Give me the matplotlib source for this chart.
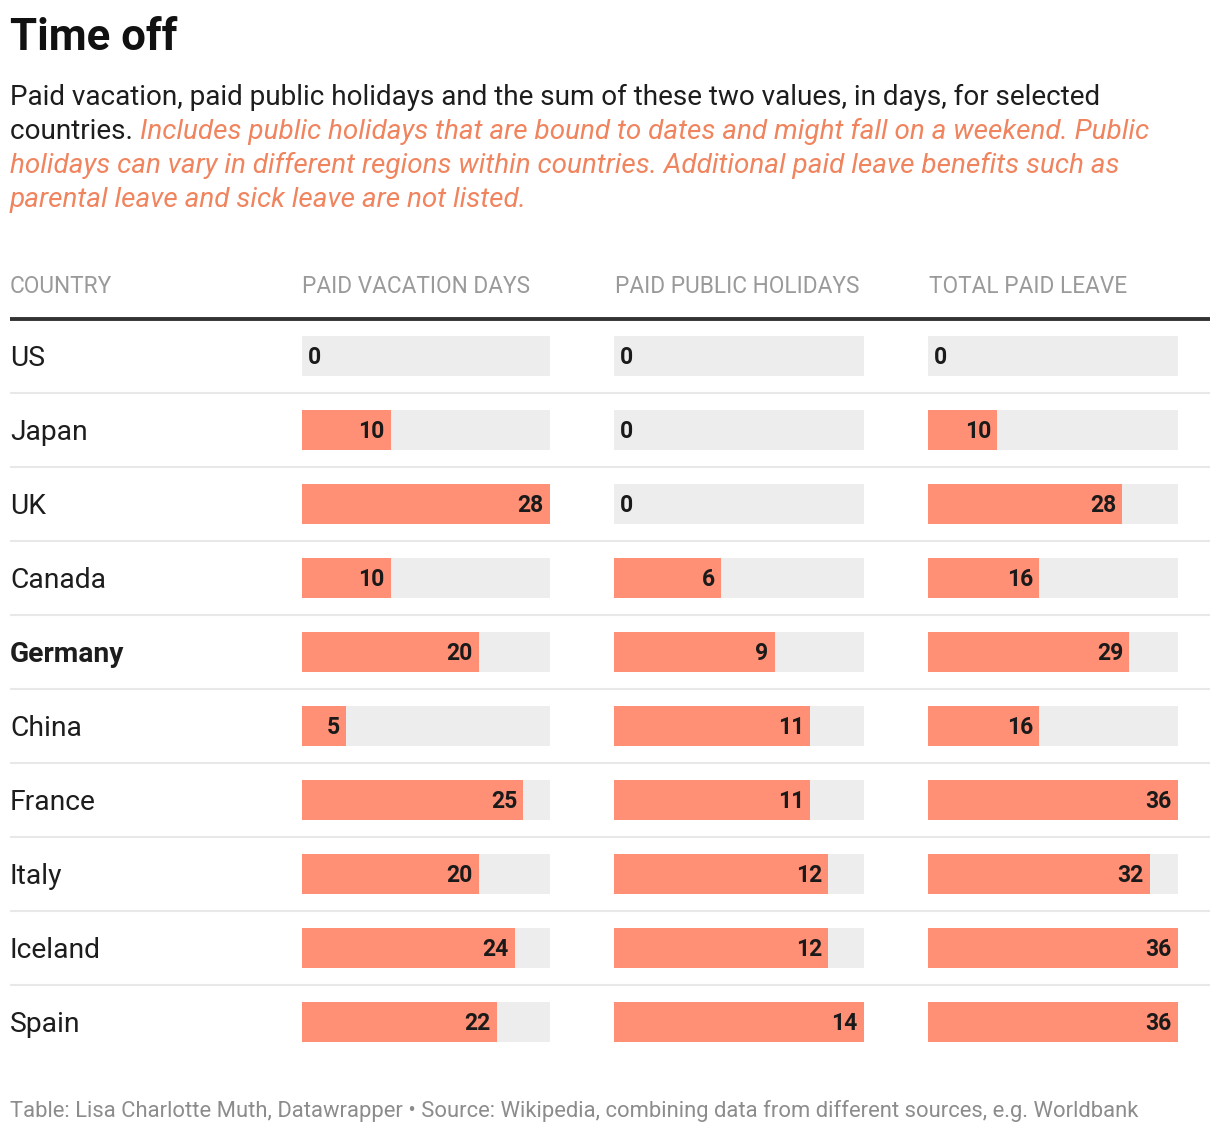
import numpy as np
import matplotlib
matplotlib.use("Agg")
import matplotlib.pyplot as plt

plt.rcParams['font.family'] = ['Roboto', 'DejaVu Sans']

# data
countries = ["US", "Japan", "UK", "Canada", "Germany", "China",
             "France", "Italy", "Iceland", "Spain"]
vacation = [0, 10, 28, 10, 20, 5, 25, 20, 24, 22]
holidays = [0, 0, 0, 6, 9, 11, 11, 12, 12, 14]
total = [0, 10, 28, 16, 29, 16, 36, 32, 36, 36]
headers = ["COUNTRY", "PAID VACATION DAYS", "PAID PUBLIC HOLIDAYS", "TOTAL PAID LEAVE"]
highlight = "Germany"

title = "Time off"
sub_lines = ["Paid vacation, paid public holidays and the sum of these two values, in days, for selected",
             "countries. "]
sub_italic = ["Includes public holidays that are bound to dates and might fall on a weekend. Public",
              "holidays can vary in different regions within countries. Additional paid leave benefits such as",
              "parental leave and sick leave are not listed."]
footer = "Table: Lisa Charlotte Muth, Datawrapper \u2022 Source: Wikipedia, combining data from different sources, e.g. Worldbank"

BAR = "#ff8f75"
BG = "#ededed"
W, H = 1220, 1134

fig = plt.figure(figsize=(W / 100, H / 100), dpi=100)
fig.patch.set_facecolor("white")


def fx(px):
    return px / W


def fy(py):
    return 1 - py / H


# title + description
fig.text(fx(10), fy(50), title, fontsize=31.5, fontweight="bold", color="#111111", va="baseline")
fig.text(fx(10), fy(105), sub_lines[0], fontsize=20.1, color="#1d1d1d", va="baseline")
t = fig.text(fx(10), fy(139), sub_lines[1], fontsize=20.1, color="#1d1d1d", va="baseline")
r = fig.canvas.get_renderer()
x_end = t.get_window_extent(r).x1 / W
fig.text(x_end, fy(139), sub_italic[0], fontsize=20.1, color="#f0845e", style="italic", va="baseline")
fig.text(fx(10), fy(173), sub_italic[1], fontsize=20.1, color="#f0845e", style="italic", va="baseline")
fig.text(fx(10), fy(207), sub_italic[2], fontsize=20.1, color="#f0845e", style="italic", va="baseline")

# table frame axes (rows in data units)
top, bottom = 319, 1059
n = len(countries)
tab = fig.add_axes([0, fy(bottom), 1, (bottom - top) / H])
tab.set_xlim(0, W)
tab.set_ylim(n - 0.5, -0.5)
tab.axis("off")

row_px = (bottom - top) / n
for i in range(n - 1):
    tab.axhline(i + 0.5, xmin=fx(10), xmax=fx(1210), color="#e8e8e8", lw=1.5,
                solid_capstyle="butt")
tab.axhline(-0.5, xmin=fx(10), xmax=fx(1210), color="#333333", lw=2.8, clip_on=False,
            solid_capstyle="butt")

for i, c in enumerate(countries):
    tab.annotate(c, (10, i), xytext=(0, -7.5), textcoords="offset points",
                 fontsize=20.3, color="#1d1d1d", va="baseline", ha="left",
                 fontweight="bold" if c == highlight else "normal")

# headers
col_x = [10, 302, 615, 929]
for x, h in zip(col_x, headers):
    fig.text(fx(x), fy(293), h, fontsize=16.3, color="#9a9a9a", va="baseline")

# bar columns
columns = [(302, 550, vacation), (614, 864, holidays), (928, 1178, total)]
bar_h = 40 / row_px
for x0, x1, vals in columns:
    ax = fig.add_axes([fx(x0), fy(bottom), (x1 - x0) / W, (bottom - top) / H])
    vmax = max(vals)
    ax.set_xlim(0, vmax)
    ax.set_ylim(n - 0.5, -0.5)
    ax.axis("off")
    y = np.arange(n)
    ax.barh(y, [vmax] * n, height=bar_h, color=BG, linewidth=0)
    ax.barh(y, vals, height=bar_h, color=BAR, linewidth=0)
    for i, v in enumerate(vals):
        if v == 0:
            ax.annotate(str(v), (0, i), xytext=(4.5, -5.8), textcoords="offset points",
                        ha="left", va="baseline", fontsize=16.5, fontweight="bold", color="#1a1a1a")
        else:
            ax.annotate(str(v), (v, i), xytext=(-4.5, -5.8), textcoords="offset points",
                        ha="right", va="baseline", fontsize=16.5, fontweight="bold", color="#1a1a1a")

# footer
fig.text(fx(10), fy(1117), footer, fontsize=15.8, color="#8c8c8c", va="baseline")

fig.savefig("out.png", dpi=100)
